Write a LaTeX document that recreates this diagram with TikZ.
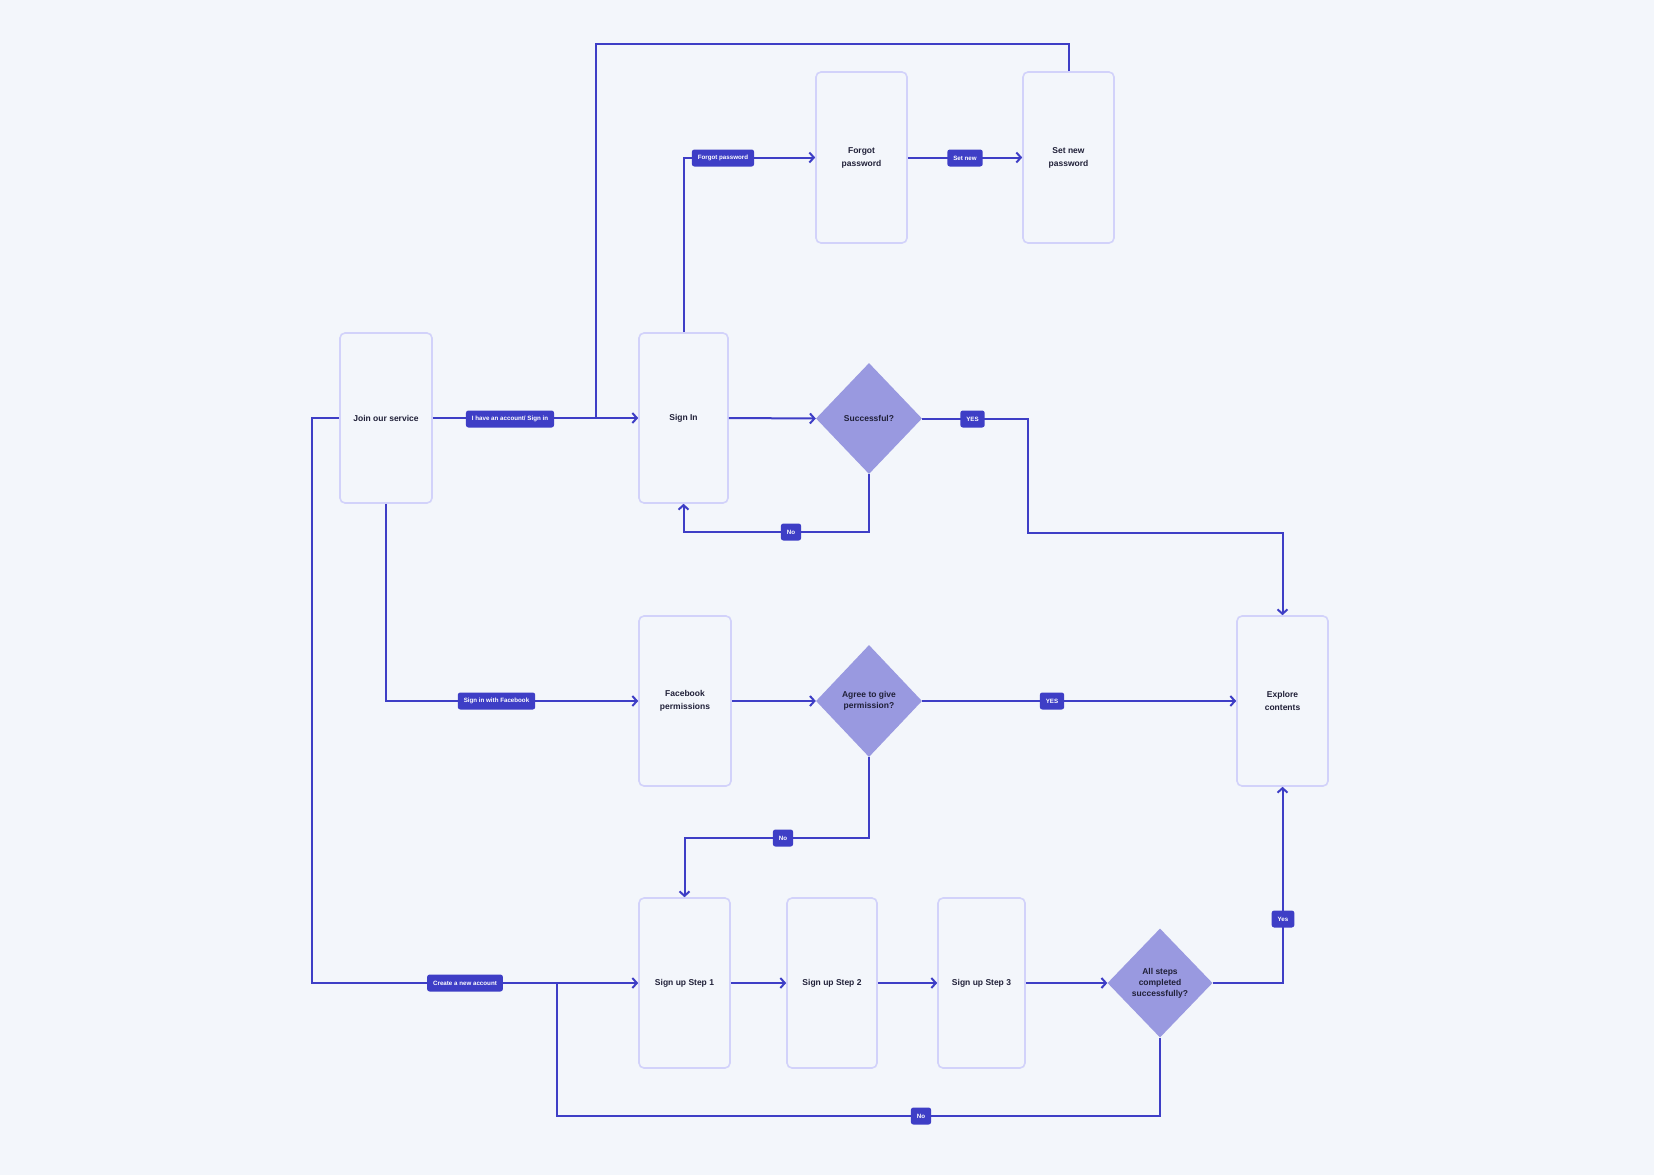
\documentclass[tikz,border=0pt]{standalone}
\usepackage{fontspec}
\setmainfont{Liberation Sans}
\usetikzlibrary{shapes.geometric,arrows.meta}
\definecolor{bgc}{RGB}{243,246,251}
\definecolor{linec}{RGB}{62,62,198}
\definecolor{boxc}{RGB}{210,210,250}
\definecolor{dia}{RGB}{153,153,224}
\definecolor{txt}{RGB}{32,32,56}
\begin{document}
\begin{tikzpicture}[x=1pt,y=-1pt,
  screen/.style={draw=boxc, line width=1.6pt, rounded corners=5pt, fill=bgc, minimum height=170pt, inner sep=0pt, align=center, text=txt, font=\fontsize{8.5}{13}\selectfont\bfseries},
  decision/.style={diamond, fill=dia, inner sep=0pt, align=center, text=txt, font=\fontsize{8.5}{11}\selectfont\bfseries},
  pill/.style={fill=linec, text=white, rounded corners=2.5pt, inner xsep=6pt, inner ysep=0pt, minimum height=17pt, font=\fontsize{6.2}{7}\selectfont\bfseries},
  flow/.style={draw=linec, line width=2pt},
  arr/.style={flow, -{Straight Barb[length=4.5pt,width=10pt]}},
]
\fill[bgc] (0,0) rectangle (1654,1175);
\useasboundingbox (0,0) rectangle (1654,1175);

% screens
\node[screen, minimum width=92pt] (join) at (386,418) {Join our service};
\node[screen, minimum width=89pt] (signin) at (683.5,418) {Sign In};
\node[screen, minimum width=91pt, minimum height=171pt] (forgot) at (861.5,157.5) {Forgot\\password};
\node[screen, minimum width=91pt, minimum height=171pt] (setnew) at (1068.5,157.5) {Set new\\password};
\node[screen, minimum width=92pt] (fb) at (685,701) {Facebook\\permissions};
\node[screen, minimum width=91pt] (explore) at (1282.5,701) {Explore\\contents};
\node[screen, minimum width=91pt] (step1) at (684.5,983) {Sign up Step 1};
\node[screen, minimum width=90pt] (step2) at (832,983) {Sign up Step 2};
\node[screen, minimum width=87pt] (step3) at (981.5,983) {Sign up Step 3};

% decisions
\node[decision, minimum width=106pt, minimum height=111pt] (succ) at (869,418.5) {Successful?};
\node[decision, minimum width=106pt, minimum height=112pt] (agree) at (869,701) {Agree to give\\permission?};
\node[decision, minimum width=105pt, minimum height=109pt] (allok) at (1160,983) {All steps\\completed\\successfully?};

% helper coordinates
\coordinate (jn) at (596,418);
\coordinate (topl) at (596,44);
\coordinate (lft) at (312,418);
\coordinate (br) at (557,983);
\coordinate (yesr) at (1028,418.5);
\coordinate (yesm) at (1028,533);
\coordinate (nol) at (869,532);
\coordinate (agn) at (869,838);
\coordinate (btm) at (1160,1116);

% connectors
\draw[arr] (join.east) -- (signin.west);
\draw[flow] (setnew.north) |- (topl) -- (jn);
\draw[arr] (signin.north) |- (forgot.west);
\draw[arr] (forgot.east) -- (setnew.west);
\draw[arr] (signin.east) -- (succ.west);
\draw[arr] (succ.east) -- (yesr) -- (yesm) -| (explore.north);
\draw[arr] (succ.south) -- (nol) -| (signin.south);
\draw[arr] (join.south) |- (fb.west);
\draw[arr] (fb.east) -- (agree.west);
\draw[arr] (agree.east) -- (explore.west);
\draw[arr] (agree.south) -- (agn) -| (step1.north);
\draw[arr] (join.west) -- (lft) |- (step1.west);
\draw[arr] (step1.east) -- (step2.west);
\draw[arr] (step2.east) -- (step3.west);
\draw[arr] (step3.east) -- (allok.west);
\draw[arr] (allok.east) -| (explore.south);
\draw[flow] (allok.south) -- (btm) -| (br);

% labels
\node[pill] (l1) at (510,419) {I have an account/ Sign in};
\node[pill] (l2) at (723,158) {Forgot password};
\node[pill] (l3) at (965,158) {Set new};
\node[pill] (l4) at (972.5,419) {YES};
\node[pill] (l5) at (791,532) {No};
\node[pill] (l6) at (496.5,701) {Sign in with Facebook};
\node[pill] (l7) at (1052,701) {YES};
\node[pill] (l8) at (783,838) {No};
\node[pill] (l9) at (465,983) {Create a new account};
\node[pill] (l10) at (921,1116) {No};
\node[pill] (l11) at (1283,919) {Yes};
\end{tikzpicture}
\end{document}
